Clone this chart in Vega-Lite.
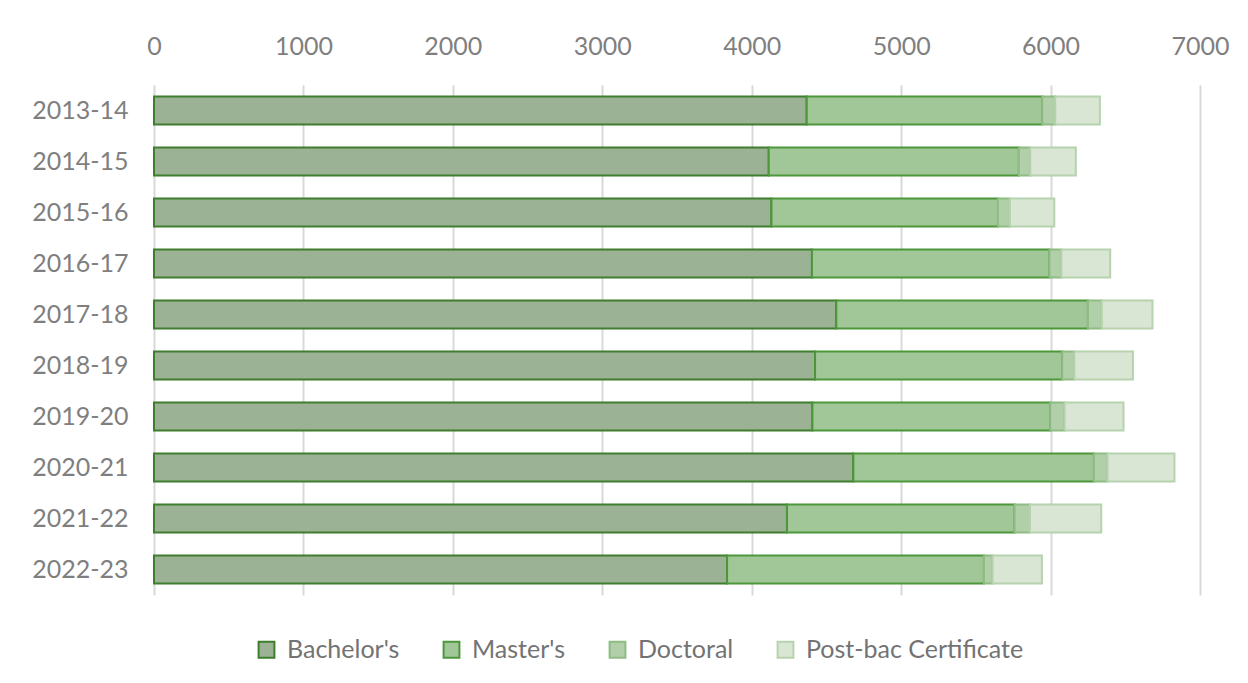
{
  "$schema": "https://vega.github.io/schema/vega-lite/v6.json",
  "autosize": "none",
  "width": 1046,
  "height": 510,
  "padding": {"left": 154, "top": 85, "right": 48, "bottom": 88},
  "background": "white",
  "config": {
    "view": {"stroke": null},
    "font": "Lato",
    "axis": {"labelFont": "Lato", "labelColor": "#7f7f7f", "labelFontSize": 25}
  },
  "data": {
    "values": [
      {"year": "2013-14", "level": "Bachelor's", "ord": 1, "n": 4368},
      {"year": "2013-14", "level": "Master's", "ord": 2, "n": 1576},
      {"year": "2013-14", "level": "Doctoral", "ord": 3, "n": 87},
      {"year": "2013-14", "level": "Post-bac Certificate", "ord": 4, "n": 299},
      {"year": "2014-15", "level": "Bachelor's", "ord": 1, "n": 4114},
      {"year": "2014-15", "level": "Master's", "ord": 2, "n": 1674},
      {"year": "2014-15", "level": "Doctoral", "ord": 3, "n": 76},
      {"year": "2014-15", "level": "Post-bac Certificate", "ord": 4, "n": 305},
      {"year": "2015-16", "level": "Bachelor's", "ord": 1, "n": 4132},
      {"year": "2015-16", "level": "Master's", "ord": 2, "n": 1516},
      {"year": "2015-16", "level": "Doctoral", "ord": 3, "n": 80},
      {"year": "2015-16", "level": "Post-bac Certificate", "ord": 4, "n": 297},
      {"year": "2016-17", "level": "Bachelor's", "ord": 1, "n": 4403},
      {"year": "2016-17", "level": "Master's", "ord": 2, "n": 1590},
      {"year": "2016-17", "level": "Doctoral", "ord": 3, "n": 79},
      {"year": "2016-17", "level": "Post-bac Certificate", "ord": 4, "n": 327},
      {"year": "2017-18", "level": "Bachelor's", "ord": 1, "n": 4566},
      {"year": "2017-18", "level": "Master's", "ord": 2, "n": 1684},
      {"year": "2017-18", "level": "Doctoral", "ord": 3, "n": 93},
      {"year": "2017-18", "level": "Post-bac Certificate", "ord": 4, "n": 339},
      {"year": "2018-19", "level": "Bachelor's", "ord": 1, "n": 4424},
      {"year": "2018-19", "level": "Master's", "ord": 2, "n": 1654},
      {"year": "2018-19", "level": "Doctoral", "ord": 3, "n": 81},
      {"year": "2018-19", "level": "Post-bac Certificate", "ord": 4, "n": 392},
      {"year": "2019-20", "level": "Bachelor's", "ord": 1, "n": 4406},
      {"year": "2019-20", "level": "Master's", "ord": 2, "n": 1592},
      {"year": "2019-20", "level": "Doctoral", "ord": 3, "n": 96},
      {"year": "2019-20", "level": "Post-bac Certificate", "ord": 4, "n": 394},
      {"year": "2020-21", "level": "Bachelor's", "ord": 1, "n": 4680},
      {"year": "2020-21", "level": "Master's", "ord": 2, "n": 1610},
      {"year": "2020-21", "level": "Doctoral", "ord": 3, "n": 91},
      {"year": "2020-21", "level": "Post-bac Certificate", "ord": 4, "n": 448},
      {"year": "2021-22", "level": "Bachelor's", "ord": 1, "n": 4236},
      {"year": "2021-22", "level": "Master's", "ord": 2, "n": 1523},
      {"year": "2021-22", "level": "Doctoral", "ord": 3, "n": 103},
      {"year": "2021-22", "level": "Post-bac Certificate", "ord": 4, "n": 477},
      {"year": "2022-23", "level": "Bachelor's", "ord": 1, "n": 3835},
      {"year": "2022-23", "level": "Master's", "ord": 2, "n": 1719},
      {"year": "2022-23", "level": "Doctoral", "ord": 3, "n": 58},
      {"year": "2022-23", "level": "Post-bac Certificate", "ord": 4, "n": 330}
    ]
  },
  "mark": {"type": "bar", "strokeWidth": 2},
  "encoding": {
    "y": {
      "field": "year", "type": "nominal", "sort": null,
      "scale": {"paddingInner": 0.45, "paddingOuter": 0.225},
      "axis": {"title": null, "ticks": false, "domain": false, "labelPadding": 26}
    },
    "x": {
      "field": "n", "type": "quantitative", "stack": "zero",
      "scale": {"domain": [0, 7000], "nice": false},
      "axis": {
        "orient": "top", "title": null, "ticks": false, "domain": false,
        "values": [0, 1000, 2000, 3000, 4000, 5000, 6000, 7000],
        "labelFlush": false, "labelOverlap": false,
        "gridColor": "#d9d9d9", "gridWidth": 2, "labelPadding": 26, "format": "d"
      }
    },
    "order": {"field": "ord", "type": "quantitative"},
    "fill": {
      "field": "level", "type": "nominal",
      "scale": {
        "domain": ["Bachelor's", "Master's", "Doctoral", "Post-bac Certificate"],
        "range": ["#9bb394", "#a1c697", "#b1cfa9", "#d9e6d4"]
      },
      "legend": {
        "title": null, "orient": "none", "direction": "horizontal",
        "legendX": 100, "legendY": 552,
        "symbolType": "square", "symbolSize": 250, "symbolStrokeWidth": 2,
        "labelFont": "Lato", "labelFontSize": 25, "labelColor": "#737373",
        "labelLimit": 400, "columnPadding": 39, "labelOffset": 8
      }
    },
    "stroke": {
      "field": "level", "type": "nominal",
      "scale": {
        "domain": ["Bachelor's", "Master's", "Doctoral", "Post-bac Certificate"],
        "range": ["#3f7d2f", "#4c9739", "#8ebc83", "#b6d2ae"]
      },
      "legend": null
    }
  }
}
